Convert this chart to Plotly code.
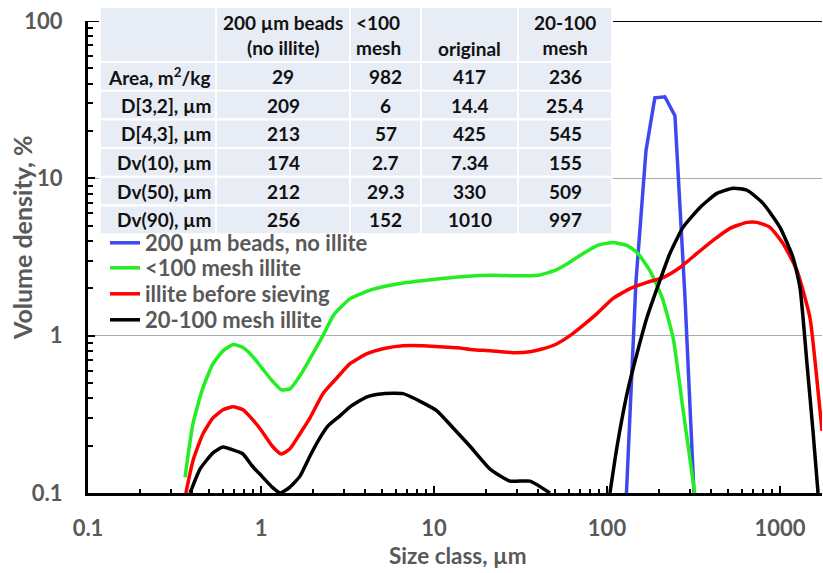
import plotly.graph_objects as go

# ---------------- data ----------------
beads_size = [129, 147, 168, 189, 216, 247, 282, 323]
beads_vol = [0.09, 2.2, 15, 32.5, 33, 25, 1.8, 0.07]

fine_size = [0.364, 0.404, 0.462, 0.528, 0.603, 0.689, 0.787, 0.887, 1.01, 1.16,
             1.31, 1.47, 1.68, 1.92, 2.28, 2.64, 3.28, 4.36, 6.24, 9.6,
             15, 22, 30, 40, 50, 60, 70, 87.5, 108, 131,
             151, 177, 208, 241, 275, 314, 358]
fine_vol = [0.126, 0.275, 0.467, 0.664, 0.80, 0.877, 0.84, 0.746, 0.625, 0.517,
            0.453, 0.459, 0.556, 0.714, 1.0, 1.36, 1.72, 1.96, 2.14, 2.27,
            2.38, 2.42, 2.40, 2.42, 2.6, 2.9, 3.24, 3.74, 3.91, 3.74,
            3.33, 2.59, 1.75, 0.97, 0.34, 0.12, 0.043]

orig_size = [0.368, 0.404, 0.462, 0.528, 0.603, 0.689, 0.787, 0.887, 1.01, 1.16,
             1.31, 1.47, 1.68, 1.92, 2.28, 2.75, 3.27, 4.10, 5.07, 6.62,
             8.64, 10.8, 13.6, 16.8, 21.1, 28.6, 35.9, 42.7, 51.4, 61.1,
             69.8, 87.5, 108, 136, 170, 211, 264, 331, 410, 514,
             645, 736, 875, 1041, 1254, 1490, 1637, 1750]
orig_vol = [0.1, 0.160, 0.238, 0.300, 0.338, 0.353, 0.338, 0.296, 0.248, 0.199,
            0.177, 0.191, 0.238, 0.300, 0.428, 0.540, 0.664, 0.768, 0.826, 0.863,
            0.863, 0.851, 0.839, 0.815, 0.802, 0.780, 0.791, 0.826, 0.889, 1.0,
            1.12, 1.38, 1.72, 1.99, 2.18, 2.34, 2.71, 3.33, 4.03, 4.81,
            5.25, 5.25, 4.88, 3.85, 2.59, 1.30, 0.517, 0.248]

mid_size = [0.389, 0.444, 0.528, 0.603, 0.689, 0.787, 0.887, 1.01, 1.16, 1.29,
            1.47, 1.68, 1.92, 2.19, 2.44, 2.86, 3.27, 4.10, 5.07, 6.62,
            7.56, 8.64, 10.4, 12.9, 16.1, 21.1, 27.5, 35.9, 46.8, None,
            104, 114, 130.5, 149, 170, 202, 231, 275, 345, 432,
            535, 645, 798, 1000, 1189, 1305, 1432, 1551, 1659]
mid_vol = [0.1, 0.142, 0.180, 0.196, 0.188, 0.177, 0.149, 0.128, 0.109, 0.1,
           0.109, 0.128, 0.172, 0.224, 0.267, 0.309, 0.353, 0.409, 0.428, 0.428,
           0.403, 0.374, 0.333, 0.259, 0.199, 0.142, 0.119, 0.119, 0.1, None,
           0.1, 0.194, 0.428, 0.768, 1.30, 2.24, 3.33, 4.88, 6.53, 8.02,
           8.64, 8.40, 6.93, 4.88, 3.14, 2.02, 0.664, 0.248, 0.1]

series_names = ["200 µm beads, no illite", "<100 mesh illite",
                "illite before sieving", "20-100 mesh illite"]
series_colors = ["#3F48F0", "#22EE22", "#FF0000", "#000000"]

table_header = ["", "200 µm beads<br>(no illite)", "&lt;100<br>mesh",
                "original", "20-100<br>mesh"]
row_labels = ["Area, m<sup>2</sup>/kg", "D[3,2], µm", "D[4,3], µm",
              "Dv(10), µm", "Dv(50), µm", "Dv(90), µm"]
col_beads = ["29", "209", "213", "174", "212", "256"]
col_fine = ["982", "6", "57", "2.7", "29.3", "152"]
col_orig = ["417", "14.4", "425", "7.34", "330", "1010"]
col_mid = ["236", "25.4", "545", "155", "509", "997"]

x_ticks = [0.1, 1, 10, 100, 1000]
x_ticktext = ["0.1", "1", "10", "100", "1000"]
y_ticks = [0.1, 1, 10, 100]
y_ticktext = ["0.1", "1", "10", "100"]

# ---------------- layout constants (pixels) ----------------
FONT = "Lato"
GREY = "#595959"
W, H = 823, 573
ML, MR, MT, MB = 88, 1, 5, 80
pw = W - ML - MR
ph = H - MT - MB
plot_top = 21
ydom_top = (H - MB - plot_top) / ph


def px(x):
    return (x - ML) / pw


def py(y):
    return (H - MB - y) / ph


fig = go.Figure()
data = [(beads_size, beads_vol, "linear"), (fine_size, fine_vol, "spline"),
        (orig_size, orig_vol, "spline"), (mid_size, mid_vol, "spline")]
legend_ids = ["legend", "legend2", "legend3", "legend4"]
for (xs, ys, shape), name, col, lg in zip(data, series_names, series_colors, legend_ids):
    fig.add_trace(go.Scatter(
        x=xs, y=ys, mode="lines", name=name, legend=lg,
        line=dict(color=col, width=3.5, shape=shape,
                  smoothing=0.5 if shape == "spline" else None),
        connectgaps=False))

minor_x = [m * 10 ** e for e in range(-1, 4) for m in range(2, 10)]
minor_y = [m * 10 ** e for e in range(-1, 2) for m in range(2, 10)]

fig.update_xaxes(
    type="log", range=[-1, -1 + (W - MR - ML) / 173.0],
    tickmode="array", tickvals=x_ticks, ticktext=x_ticktext,
    ticks="inside", ticklen=7, tickwidth=2, tickcolor="black",
    minor=dict(tickmode="array", tickvals=minor_x, ticks="inside", ticklen=4,
               tickwidth=2, tickcolor="black", showgrid=False),
    showline=True, linecolor="black", linewidth=3, showgrid=False,
    zeroline=False, ticklabelstandoff=14, automargin=False,
    tickfont=dict(family=FONT, size=22, color=GREY, weight="bold"),
)
fig.update_yaxes(
    type="log", range=[-1, 2], domain=[0, ydom_top],
    tickmode="array", tickvals=y_ticks, ticktext=y_ticktext,
    ticks="inside", ticklen=7, tickwidth=2, tickcolor="black",
    minor=dict(tickmode="array", tickvals=minor_y, ticks="inside", ticklen=5,
               tickwidth=2, tickcolor="black", showgrid=False),
    showline=True, linecolor="black", linewidth=3,
    showgrid=True, gridcolor="#ABABAB", gridwidth=1,
    zeroline=False, ticklabelstandoff=18, automargin=False,
    tickfont=dict(family=FONT, size=22, color=GREY, weight="bold"),
)

# black line at the top decade
fig.add_shape(type="line", xref="paper", yref="y", x0=0, x1=1, y0=100, y1=100,
              line=dict(color="black", width=2), layer="below")

# ---------------- statistics table (cells drawn as shapes + text) ----------------
col_w = [116, 134, 71, 97, 94]
tbl_left, tbl_top, head_h, row_h = 100, 7, 55, 28.7
col_edges = [tbl_left]
for w in col_w:
    col_edges.append(col_edges[-1] + w)
row_edges = [tbl_top, tbl_top + head_h]
for _ in row_labels:
    row_edges.append(row_edges[-1] + row_h)

CELL = "#E8ECF5"
TFONT = dict(family=FONT, size=19, color="#111111", weight="bold")
for r in range(len(row_edges) - 1):
    for c in range(len(col_w)):
        fig.add_shape(type="rect", xref="paper", yref="paper",
                      x0=px(col_edges[c]), x1=px(col_edges[c + 1]),
                      y0=py(row_edges[r]), y1=py(row_edges[r + 1]),
                      fillcolor=CELL, line=dict(color="white", width=2),
                      layer="above")

# header
for c, txt in enumerate(table_header):
    if not txt:
        continue
    cx = (col_edges[c] + col_edges[c + 1]) / 2
    if "<br>" in txt:
        ymid = (21 + 48) / 2
    else:
        ymid = 48
    if c == 2:
        fig.add_annotation(text=txt, xref="paper", yref="paper",
                           x=px(col_edges[c] + 4), y=py(ymid), xanchor="left",
                           yanchor="middle", align="left", showarrow=False,
                           font=TFONT)
    else:
        fig.add_annotation(text=txt, xref="paper", yref="paper",
                           x=px(cx), y=py(ymid), xanchor="center",
                           yanchor="middle", align="center", showarrow=False,
                           font=TFONT)

columns = [col_beads, col_fine, col_orig, col_mid]
for r, lab in enumerate(row_labels):
    ymid = (row_edges[r + 1] + row_edges[r + 2]) / 2
    fig.add_annotation(text=lab, xref="paper", yref="paper",
                       x=px(col_edges[1] - 3), y=py(ymid), xanchor="right",
                       yanchor="middle", showarrow=False, font=TFONT)
    for c, col in enumerate(columns):
        cx = (col_edges[c + 1] + col_edges[c + 2]) / 2
        fig.add_annotation(text=col[r], xref="paper", yref="paper",
                           x=px(cx), y=py(ymid), xanchor="center",
                           yanchor="middle", showarrow=False, font=TFONT)

# axis titles
fig.add_annotation(text="Volume density, %", xref="paper", yref="paper",
                   x=px(22), y=py(238), textangle=-90,
                   showarrow=False, xanchor="center", yanchor="middle",
                   font=dict(family=FONT, size=25, color=GREY, weight="bold"))
fig.add_annotation(text="Size class, µm", xref="paper", yref="paper",
                   x=px(458), y=py(555),
                   showarrow=False, xanchor="center", yanchor="middle",
                   font=dict(family=FONT, size=22.5, color=GREY, weight="bold"))

legend_y = [243, 268, 294, 320]
LFONT = dict(family=FONT, size=22, color=GREY, weight="bold")
legend_layouts = {}
for lg, yy in zip(legend_ids, legend_y):
    legend_layouts[lg] = dict(x=px(105), y=py(yy), xanchor="left",
                              yanchor="middle", bgcolor="rgba(0,0,0,0)",
                              font=LFONT, itemwidth=30, borderwidth=0)

fig.update_layout(
    width=W, height=H,
    margin=dict(l=ML, r=MR, t=MT, b=MB, autoexpand=False),
    paper_bgcolor="white", plot_bgcolor="white",
    showlegend=True,
    **legend_layouts,
)

fig.write_html("out.html")
